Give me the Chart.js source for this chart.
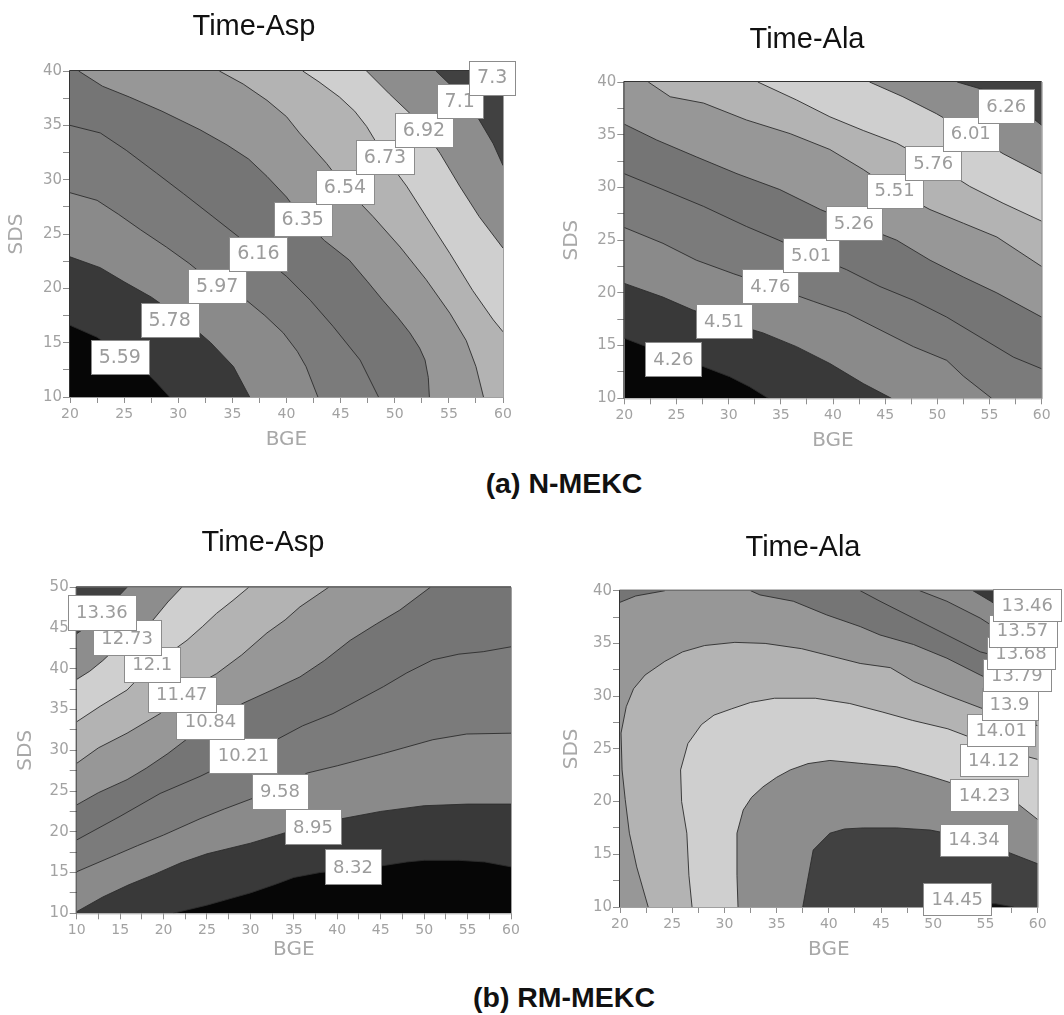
<!DOCTYPE html>
<html>
<head>
<meta charset="utf-8">
<script src="https://cdn.jsdelivr.net/npm/chart.js@4.4.1/dist/chart.umd.min.js"></script>
<style>
html,body{margin:0;padding:0;background:#fff;}
body{width:1064px;height:1015px;position:relative;overflow:hidden;font-family:"Liberation Sans",Arial,sans-serif;}
canvas{position:absolute;}
.cap{position:absolute;font-weight:bold;font-size:28.5px;color:#111;white-space:nowrap;transform:translate(-50%,-50%);font-family:"Liberation Sans",Arial,sans-serif;}
</style>
</head>
<body>
<canvas id="c1" width="530" height="460" style="left:0;top:0;"></canvas>
<canvas id="c2" width="534" height="460" style="left:530px;top:0;"></canvas>
<canvas id="c3" width="530" height="475" style="left:0;top:500px;"></canvas>
<canvas id="c4" width="534" height="475" style="left:530px;top:500px;"></canvas>
<div class="cap" style="left:564px;top:483px;">(a) N-MEKC</div>
<div class="cap" style="left:564px;top:997px;">(b) RM-MEKC</div>
<script>
// ---------- (a) N-MEKC : Time-Asp ----------
const aspN_levels = ['5.59','5.78','5.97','6.16','6.35','6.54','6.73','6.92','7.1','7.3'];
const aspN_segments = [
  [[20,16.6],[22.5,15.5],[25,13.8],[26.8,12.5],[28,11.3],[29.2,10]],
  [[20,22.9],[22.8,21.9],[25,20.6],[27.5,19.2],[30.8,16.9],[33,15],[35.1,12.8],[36.6,10]],
  [[20,28.8],[22.5,28.1],[24.5,26.8],[26.5,25.4],[28.9,23.8],[31,22.3],[33.6,20.2],[36.3,18.9],[38,17.5],[39.7,15.9],[41,14.2],[41.8,12.8],[42.9,10]],
  [[20,35],[22.8,34.3],[25.2,32.7],[28,30.6],[30.5,28.7],[33.2,26.6],[35.5,24.8],[37.4,23.2],[40,21.1],[42.2,18.9],[44.3,16.5],[46.8,13.4],[48.5,10]],
  [[20.8,40],[23,38.6],[25.5,37.6],[28.5,36.3],[32,34.6],[34.5,33.2],[36.5,31.9],[38.2,30.3],[40,28.4],[41.5,26.4],[43.5,24.4],[45.8,22.6],[47.5,20.6],[48.9,18.9],[50.3,17.3],[51.4,15.9],[52.3,14.5],[52.8,13.4],[53.1,11.8],[53.2,10]],
  [[33.8,40],[36,38.8],[38.2,37.3],[40,35.8],[41.2,34.3],[43.7,31.5],[45.4,29.3],[48,26.6],[50.5,23.8],[52.9,20.8],[55.1,17.7],[56.6,15.2],[57.5,12.8],[58.2,10]],
  [[41.5,40],[43,39],[44.9,37.6],[46.3,36.3],[47.4,34.9],[49.1,32.1],[51.1,29.4],[52.9,26.6],[55.1,23.2],[57.2,19.8],[59.1,17.1],[60,16]],
  [[47.4,40],[49.5,37.9],[51.4,36.1],[52.7,34.6],[54.2,32.4],[56,29.4],[57.8,26.6],[60,23.7]],
  [[53.8,40],[56,37.9],[57.8,35.5],[59.1,33.3],[60,31.3]],
  [[59.3,40],[59.7,39.6],[60,39.3]]
];
const aspN_segLevel = [0,1,2,3,4,5,6,7,8,9];
const aspN_labelX = [24.6,29.2,33.6,37.4,41.5,45.4,49.1,52.7,56.0,59.0];
const aspN_labelY = [13.7,17.1,20.2,23.2,26.4,29.3,32.1,34.6,37.2,39.4];
const aspN_xTicks = [20,25,30,35,40,45,50,55,60];
const aspN_yTicks = [10,15,20,25,30,35,40];

// ---------- (a) N-MEKC : Time-Ala ----------
const alaN_levels = ['4.26','4.51','4.76','5.01','5.26','5.51','5.76','6.01','6.26'];
const alaN_segments = [
  [[20,15.7],[23.7,14.3],[27.6,13],[30.1,12.05],[32,11.1],[33.8,10]],
  [[20,20.9],[23.7,19.6],[26.5,18.4],[29.6,17.3],[33.3,16.2],[36.5,14.9],[39.7,13.3],[42.9,11.4],[45.6,10]],
  [[20,26.2],[23.7,24.7],[26.9,23.1],[30.5,21.8],[34,20.65],[38.1,19.2],[41.3,18.1],[44.5,16.5],[47.7,14.9],[50.9,13.6],[52.5,12.1],[55.2,10]],
  [[20,31.3],[23.7,29.8],[27.6,28.2],[31.7,26.3],[34.8,25],[37.9,23.6],[41.3,22.2],[44.5,20.6],[47.7,19.3],[50.9,17.7],[54.1,15.8],[57.3,13.9],[60,12.8]],
  [[20,36],[23.1,34.5],[26.9,32.9],[30.8,31.3],[34.9,29.8],[38.8,27.9],[42,26.6],[46.1,25],[49.3,23.1],[52.5,21.5],[55.7,20],[60,17.7]],
  [[22.3,40],[24.4,38.6],[27.6,38],[31.7,36.4],[35.9,35.1],[39.7,33.6],[42.9,31.7],[45.9,29.7],[49.3,27.9],[52.5,26.6],[55.7,25.3],[60,22.5]],
  [[32.8,40],[36.5,38.3],[39.7,36.7],[42.9,35.4],[46.1,34.2],[49.6,32.3],[53.1,30.1],[56.3,28.5],[60,26.8]],
  [[43.5,40],[46.7,38.6],[49.9,37],[53.2,35.1],[56.3,33.2],[60,31.3]],
  [[51.9,40],[55,39.1],[58.2,37.3],[60,35.9]]
];
const alaN_segLevel = [0,1,2,3,4,5,6,7,8];
const alaN_labelX = [24.7,29.55,34.0,37.9,42.0,45.9,49.6,53.2,56.6];
const alaN_labelY = [13.7,17.3,20.65,23.6,26.6,29.7,32.3,35.1,37.7];
const alaN_xTicks = [20,25,30,35,40,45,50,55,60];
const alaN_yTicks = [10,15,20,25,30,35,40];

// ---------- (b) RM-MEKC : Time-Asp ----------
const aspR_levels = ['8.32','8.95','9.58','10.21','10.84','11.47','12.1','12.73','13.36'];
const aspR_segments = [
  [[21.1,10],[25,11],[28,11.9],[30,12.5],[33,13.6],[35,14.4],[38,15],[40,15.2],[45,15.8],[48,16.3],[50,16.5],[54,16.5],[57,16.3],[60,15.7]],
  [[10,10.2],[13,12],[16,13.5],[19,14.8],[22,16.2],[25,17.3],[30,18.6],[35,20.2],[40,21.5],[45,22.5],[50,23.2],[55,23.4],[60,23.4]],
  [[10,15.1],[14.6,17.2],[17,18.3],[20,19.6],[24.2,21.6],[27,22.8],[30,24],[33.4,25.1],[36.5,27.2],[40,28.1],[45.3,29.6],[51,31.3],[54.9,32],[60,32.1]],
  [[10,19],[15,21.9],[19.6,24.7],[24.2,26.8],[29.2,29.4],[33,31.3],[36,33],[39.5,34.5],[42.5,36.2],[45.3,37.8],[48,39.5],[51,41.1],[54,41.8],[56.8,42.1],[60,42.7]],
  [[10,23.3],[12.5,24.8],[15.8,26.4],[18,27.8],[20.5,29.6],[25.3,33.5],[29.2,35.8],[32.5,37.4],[35.7,39],[38.5,41],[41.5,43.5],[44.5,45.5],[47.2,47.2],[50.7,50]],
  [[10,28.4],[12.5,30.3],[15.8,32.1],[19.6,34.5],[22.1,37],[26.1,39.4],[29,41.7],[31.9,44.4],[34,46],[35.7,47.6],[39,50]],
  [[10,33.5],[12.7,35.4],[15.8,37.4],[18.6,40.5],[20.5,41.8],[22.7,43.5],[24.5,45.2],[26.1,46.8],[28,48.4],[29.8,50]],
  [[10,38.7],[11.5,39.7],[13,41],[15.8,43.8],[17.5,45],[18.8,46],[20.5,48.2],[22.1,50]],
  [[10,44.3],[12,45.8],[14,48],[15.8,50]]
];
const aspR_segLevel = [0,1,2,3,4,5,6,7,8];
const aspR_labelX = [41.8,37.2,33.4,29.2,25.4,22.1,18.7,15.8,12.9];
const aspR_labelY = [15.7,20.6,25.0,29.4,33.5,36.9,40.5,43.8,46.9];
const aspR_xTicks = [10,15,20,25,30,35,40,45,50,55,60];
const aspR_yTicks = [10,15,20,25,30,35,40,45,50];

// ---------- (b) RM-MEKC : Time-Ala ----------
const alaR_levels = ['13.46','13.57','13.68','13.79','13.9','14.01','14.12','14.23','14.34','14.45'];
const alaR_segments = [
  [[57.5,40],[59,39.6],[60,39.4]],
  [[53.8,40],[55.5,39],[57,38],[58.5,37],[60,36.5]],
  [[48.7,40],[51.3,39],[54.5,37.4],[56.7,36],[58.5,35],[60,34.3]],
  [[43,40],[44.9,39],[48.1,37.4],[51.3,35.8],[54.5,34.2],[56.1,33.8],[58,32.5],[60,31.8]],
  [[32.5,40],[33.4,39.6],[36.6,39],[39.8,37.7],[43,36.6],[44.9,35.8],[48.1,34.9],[51.3,33.6],[54.5,32],[55.8,31.4],[58,30.3],[60,29.5]],
  [[20,38.9],[21.5,39.5],[24.3,40]],
  [[22.7,10],[21.6,13.8],[20.9,17],[20.5,20.2],[20.2,23],[20.1,26.5],[20.6,29],[21.3,30.7],[22.4,32],[24.3,33.3],[26,34.2],[28.1,34.8],[31,35.1],[33.9,35],[37.4,34.5],[39.8,33.9],[43,33.1],[45.9,32.7],[48.1,31.4],[51.3,30.1],[54.5,28.9],[57,28],[60,27.2]],
  [[26.9,10],[26.6,13],[26.4,17],[25.9,20],[25.8,23],[26.5,25.5],[27.8,27.3],[29,28.2],[30.7,28.8],[32.5,29.4],[34.8,29.8],[38.7,29.8],[42,29.3],[45.1,28.5],[48,27.7],[51.4,26.9],[54.6,25.7],[57,24.8],[60,24]],
  [[31.3,10],[31.2,13],[31.2,17],[31.8,19.2],[32.6,20.4],[33.7,21.4],[35,22.3],[36.3,23],[38,23.6],[40.1,23.9],[43.3,23.6],[46.5,23.3],[49.7,22.4],[52.9,21.4],[55.5,20.8],[57.7,20.1],[60,18.3]],
  [[37.5,10],[37.9,12.2],[38.5,15.4],[40.1,17],[41.5,17.4],[43.3,17.5],[46.5,17.5],[49.7,17.3],[53.8,16.5],[57.4,15.1],[60,14.1]],
  [[49.4,10],[50.5,10.3],[53,10.4],[56,10.3],[57.7,10]]
];
const alaR_segLevel = [0,1,2,3,4,4,5,6,7,8,9];
const alaR_labelX = [59.0,58.55,58.4,58.0,57.3,56.5,55.8,54.9,53.9,52.3];
const alaR_labelY = [38.6,36.2,34.1,32.0,29.25,26.8,23.9,20.6,16.4,10.75];
const alaR_xTicks = [20,25,30,35,40,45,50,55,60];
const alaR_yTicks = [10,15,20,25,30,35,40];

// ---------- styling ----------
const PAL = ['#060606','#393939','#8a8a8a','#7b7b7b','#757575','#979797','#b3b3b3','#cfcfcf','#8d8d8d','#414141','#0d0d0d'];

function makeChart(id, P) {
  const [x0,x1] = P.xr, [y0,y1] = P.yr;
  const W = x1-x0, H = y1-y0, PER = 2*W+2*H;
  const tOf = ([x,y]) => {
    const e = 1e-6;
    if (Math.abs(y-y0) < e) return x-x0;
    if (Math.abs(x-x1) < e) return W+(y-y0);
    if (Math.abs(y-y1) < e) return W+H+(x1-x);
    return 2*W+H+(y1-y);
  };
  const corners = [[0,[x0,y0]],[W,[x1,y0]],[W+H,[x1,y1]],[2*W+H,[x0,y1]]];
  function region(pts, dir) {
    const ts = tOf(pts[0]), te = tOf(pts[pts.length-1]);
    const span = dir === 'ccw' ? (ts-te+PER)%PER : (te-ts+PER)%PER;
    const cs = corners.map(([t,c]) => [dir === 'ccw' ? (t-te+PER)%PER : (te-t+PER)%PER, c])
      .filter(([d]) => d > 1e-9 && d < span).sort((a,b) => a[0]-b[0]).map(a => a[1]);
    return pts.concat(cs, [pts[0]]);
  }
  const toXY = pts => pts.map(([x,y]) => ({x, y}));
  const paint = [{pts: [[x0,y0],[x1,y0],[x1,y1],[x0,y1],[x0,y0]], band: P.split}];
  const idx = P.segments.map((s,i) => i);
  idx.filter(i => P.segLevel[i] < P.split).sort((a,b) => P.segLevel[b]-P.segLevel[a])
     .forEach(i => paint.push({pts: region(P.segments[i], P.lowDir), band: P.segLevel[i]}));
  idx.filter(i => P.segLevel[i] >= P.split).sort((a,b) => P.segLevel[a]-P.segLevel[b])
     .forEach(i => paint.push({pts: region(P.segments[i], P.highDir), band: P.segLevel[i]+1}));
  const ds = [];
  paint.forEach(p => ds.push({data: toXY(p.pts), fill: 'shape', backgroundColor: PAL[p.band], borderColor: PAL[p.band], borderWidth: 0, pointRadius: 0, tension: 0}));
  P.segments.forEach(s => ds.push({data: toXY(s), fill: false, borderColor: '#2c2c2c', borderWidth: 0.9, pointRadius: 0, tension: 0}));
  ds.forEach((d,i) => { d.order = ds.length - i; });

  const near = (arr, v) => arr.some(t => Math.abs(t - v) < 1e-6);
  const overlay = {
    id: 'overlay' + id,
    afterDatasetsDraw(chart) {
      const {ctx, chartArea: a, scales: {x, y}} = chart;
      ctx.save();
      ctx.lineWidth = 1;
      ctx.strokeStyle = '#a0a0a0';
      ctx.beginPath();
      ctx.moveTo(a.right + 0.5, a.top); ctx.lineTo(a.right + 0.5, a.bottom + 0.5); ctx.lineTo(a.left, a.bottom + 0.5);
      ctx.stroke();
      ctx.strokeStyle = '#333';
      ctx.beginPath();
      ctx.moveTo(a.left - 0.5, a.bottom); ctx.lineTo(a.left - 0.5, a.top - 0.5); ctx.lineTo(a.right, a.top - 0.5);
      ctx.stroke();
      ctx.font = P.labelFont;
      ctx.textAlign = 'center';
      ctx.textBaseline = 'middle';
      P.labelOrder.forEach(i => {
        const px = x.getPixelForValue(P.labelX[i]);
        const py = y.getPixelForValue(P.labelY[i]);
        const tw = ctx.measureText(P.levels[i]).width;
        const w = Math.round(tw + 16), h = P.boxH;
        const bx = Math.round(px - w/2), by = Math.round(py - h/2);
        ctx.fillStyle = '#ffffff';
        ctx.fillRect(bx, by, w, h);
        ctx.strokeStyle = '#8c8c8c';
        ctx.strokeRect(bx + 0.5, by + 0.5, w, h);
        ctx.fillStyle = '#9c9c9c';
        ctx.fillText(P.levels[i], px, py + 1);
      });
      ctx.restore();
    }
  };

  return new Chart(document.getElementById(id), {
    type: 'line',
    data: {datasets: ds},
    options: {
      responsive: false,
      devicePixelRatio: 1,
      animation: false,
      events: [],
      layout: {padding: P.pad},
      plugins: {
        legend: {display: false},
        tooltip: {enabled: false},
        title: {display: true, text: P.title, color: '#111',
                font: {family: '"Liberation Sans", Arial', size: 29, weight: 'normal'},
                padding: {top: 0, bottom: P.titlePadBottom}}
      },
      scales: {
        x: {
          type: 'linear', min: x0, max: x1,
          afterFit: s => { s.height = 60; },
          ticks: {stepSize: 2.5, autoSkip: false, maxRotation: 0, minRotation: 0, padding: 3,
                  color: '#a2a2a2', font: {family: '"DejaVu Sans"', size: 14},
                  callback: v => near(P.xTicks, v) ? String(v) : ''},
          grid: {drawOnChartArea: false, drawTicks: true, tickLength: 6, color: '#8f8f8f'},
          border: {display: false},
          title: {display: true, text: 'BGE', color: '#a8a8a8', font: {family: '"DejaVu Sans"', size: 20},
                  padding: {top: 0, bottom: P.xTitlePad}}
        },
        y: {
          type: 'linear', min: y0, max: y1,
          afterFit: s => { s.width = P.yAxisW; },
          ticks: {stepSize: 2.5, autoSkip: false, padding: 1,
                  color: '#a2a2a2', font: {family: '"DejaVu Sans"', size: 15},
                  callback: v => near(P.yTicks, v) ? String(v) : ''},
          grid: {drawOnChartArea: false, drawTicks: true, tickLength: 7, color: '#8f8f8f'},
          border: {display: false},
          title: {display: true, text: 'SDS', color: '#a8a8a8', font: {family: '"DejaVu Sans"', size: 20},
                  padding: {top: P.yTitlePad, bottom: 0}}
        }
      }
    },
    plugins: [overlay]
  });
}

makeChart('c1', {
  title: 'Time-Asp', xr: [20,60], yr: [10,40],
  segments: aspN_segments, segLevel: aspN_segLevel, split: 0, highDir: 'ccw', lowDir: 'cw',
  levels: aspN_levels, labelX: aspN_labelX, labelY: aspN_labelY, labelOrder: aspN_levels.map((l,i) => i), boxH: 34,
  labelFont: '19px "DejaVu Sans"',
  xTicks: aspN_xTicks, yTicks: aspN_yTicks,
  pad: {left: 5, right: 27, top: 9.6, bottom: 3}, titlePadBottom: 26.6, yAxisW: 65, yTitlePad: 0, xTitlePad: 5
});
makeChart('c2', {
  title: 'Time-Ala', xr: [20,60], yr: [10,40],
  segments: alaN_segments, segLevel: alaN_segLevel, split: 0, highDir: 'ccw', lowDir: 'cw',
  levels: alaN_levels, labelX: alaN_labelX, labelY: alaN_labelY, labelOrder: alaN_levels.map((l,i) => i), boxH: 34,
  labelFont: '18px "DejaVu Sans"',
  xTicks: alaN_xTicks, yTicks: alaN_yTicks,
  pad: {left: 42.3, right: 22.3, top: 22.6, bottom: 1.7}, titlePadBottom: 24.6, yAxisW: 52, yTitlePad: -12.3, xTitlePad: 5.3
});
makeChart('c3', {
  title: 'Time-Asp', xr: [10,60], yr: [10,50],
  segments: aspR_segments, segLevel: aspR_segLevel, split: 0, highDir: 'ccw', lowDir: 'cw',
  levels: aspR_levels, labelX: aspR_labelX, labelY: aspR_labelY, labelOrder: aspR_levels.map((l,i) => i), boxH: 35,
  labelFont: '18px "DejaVu Sans"',
  xTicks: aspR_xTicks, yTicks: aspR_yTicks,
  pad: {left: 15, right: 19, top: 25.6, bottom: 1.7}, titlePadBottom: 26.9, yAxisW: 61.7, yTitlePad: -1, xTitlePad: 12
});
makeChart('c4', {
  title: 'Time-Ala', xr: [20,60], yr: [10,40],
  segments: alaR_segments, segLevel: alaR_segLevel, split: 5, highDir: 'cw', lowDir: 'ccw',
  levels: alaR_levels, labelX: alaR_labelX, labelY: alaR_labelY, labelOrder: alaR_levels.map((l,i) => alaR_levels.length-1-i), boxH: 32,
  labelFont: '18px "DejaVu Sans"',
  xTicks: alaR_xTicks, yTicks: alaR_yTicks,
  pad: {left: 38.3, right: 26.3, top: 30.6, bottom: 8}, titlePadBottom: 25.3, yAxisW: 51.7, yTitlePad: -8.3, xTitlePad: 5
});
</script>
</body>
</html>
